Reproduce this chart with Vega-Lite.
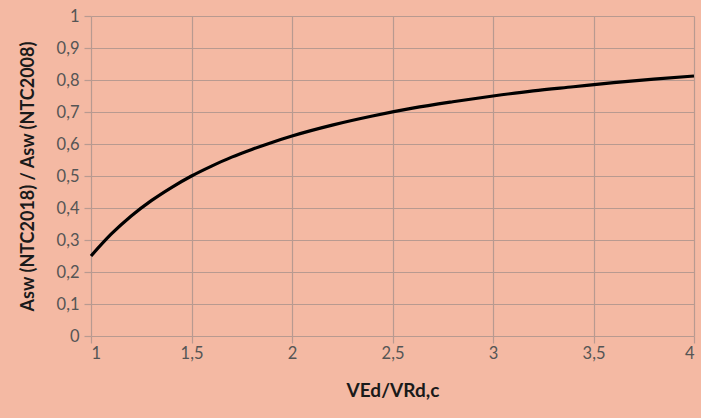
{
  "$schema": "https://vega.github.io/schema/vega-lite/v6.json",
  "autosize": {"type": "none"},
  "width": 603,
  "height": 320,
  "padding": {"left": 91, "top": 16, "right": 7, "bottom": 82},
  "background": "#F4B9A3",
  "config": {
    "view": {"stroke": null},
    "font": "Lato",
    "axis": {
      "domain": false,
      "gridColor": "#B89A90",
      "gridWidth": 1.2,
      "tickColor": "#B89A90",
      "tickWidth": 1.2,
      "tickSize": 7,
      "labelFont": "Lato",
      "labelFontSize": 16.5,
      "labelColor": "#555555",
      "titleFont": "Lato",
      "titleFontWeight": "bold",
      "titleColor": "#1a1a1a"
    }
  },
  "data": {
    "values": [
      {"v": 1.0, "r": 0.25},
      {"v": 1.1, "r": 0.318},
      {"v": 1.2, "r": 0.375},
      {"v": 1.3, "r": 0.423},
      {"v": 1.4, "r": 0.464},
      {"v": 1.5, "r": 0.5},
      {"v": 1.6, "r": 0.531},
      {"v": 1.7, "r": 0.559},
      {"v": 1.8, "r": 0.583},
      {"v": 1.9, "r": 0.605},
      {"v": 2.0, "r": 0.625},
      {"v": 2.2, "r": 0.659},
      {"v": 2.4, "r": 0.6875},
      {"v": 2.6, "r": 0.712},
      {"v": 2.8, "r": 0.732},
      {"v": 3.0, "r": 0.75},
      {"v": 3.2, "r": 0.766},
      {"v": 3.4, "r": 0.779},
      {"v": 3.6, "r": 0.792},
      {"v": 3.8, "r": 0.803},
      {"v": 4.0, "r": 0.8125}
    ]
  },
  "mark": {"type": "line", "color": "#000000", "strokeWidth": 3.2, "interpolate": "monotone"},
  "encoding": {
    "x": {
      "field": "v",
      "type": "quantitative",
      "scale": {"domain": [1, 4], "nice": false, "zero": false},
      "axis": {
        "values": [1, 1.5, 2, 2.5, 3, 3.5, 4],
        "labelExpr": "replace(toString(datum.value), '.', ',')",
        "labelPadding": 2,
        "title": "VEd/VRd,c",
        "titleFontSize": 19,
        "titlePadding": 20
      }
    },
    "y": {
      "field": "r",
      "type": "quantitative",
      "scale": {"domain": [0, 1], "nice": false},
      "axis": {
        "values": [0, 0.1, 0.2, 0.3, 0.4, 0.5, 0.6, 0.7, 0.8, 0.9, 1],
        "labelExpr": "replace(toString(datum.value), '.', ',')",
        "labelPadding": 5,
        "title": "Asw (NTC2018) / Asw (NTC2008)",
        "titleFontSize": 18,
        "titlePadding": 19
      }
    }
  }
}
